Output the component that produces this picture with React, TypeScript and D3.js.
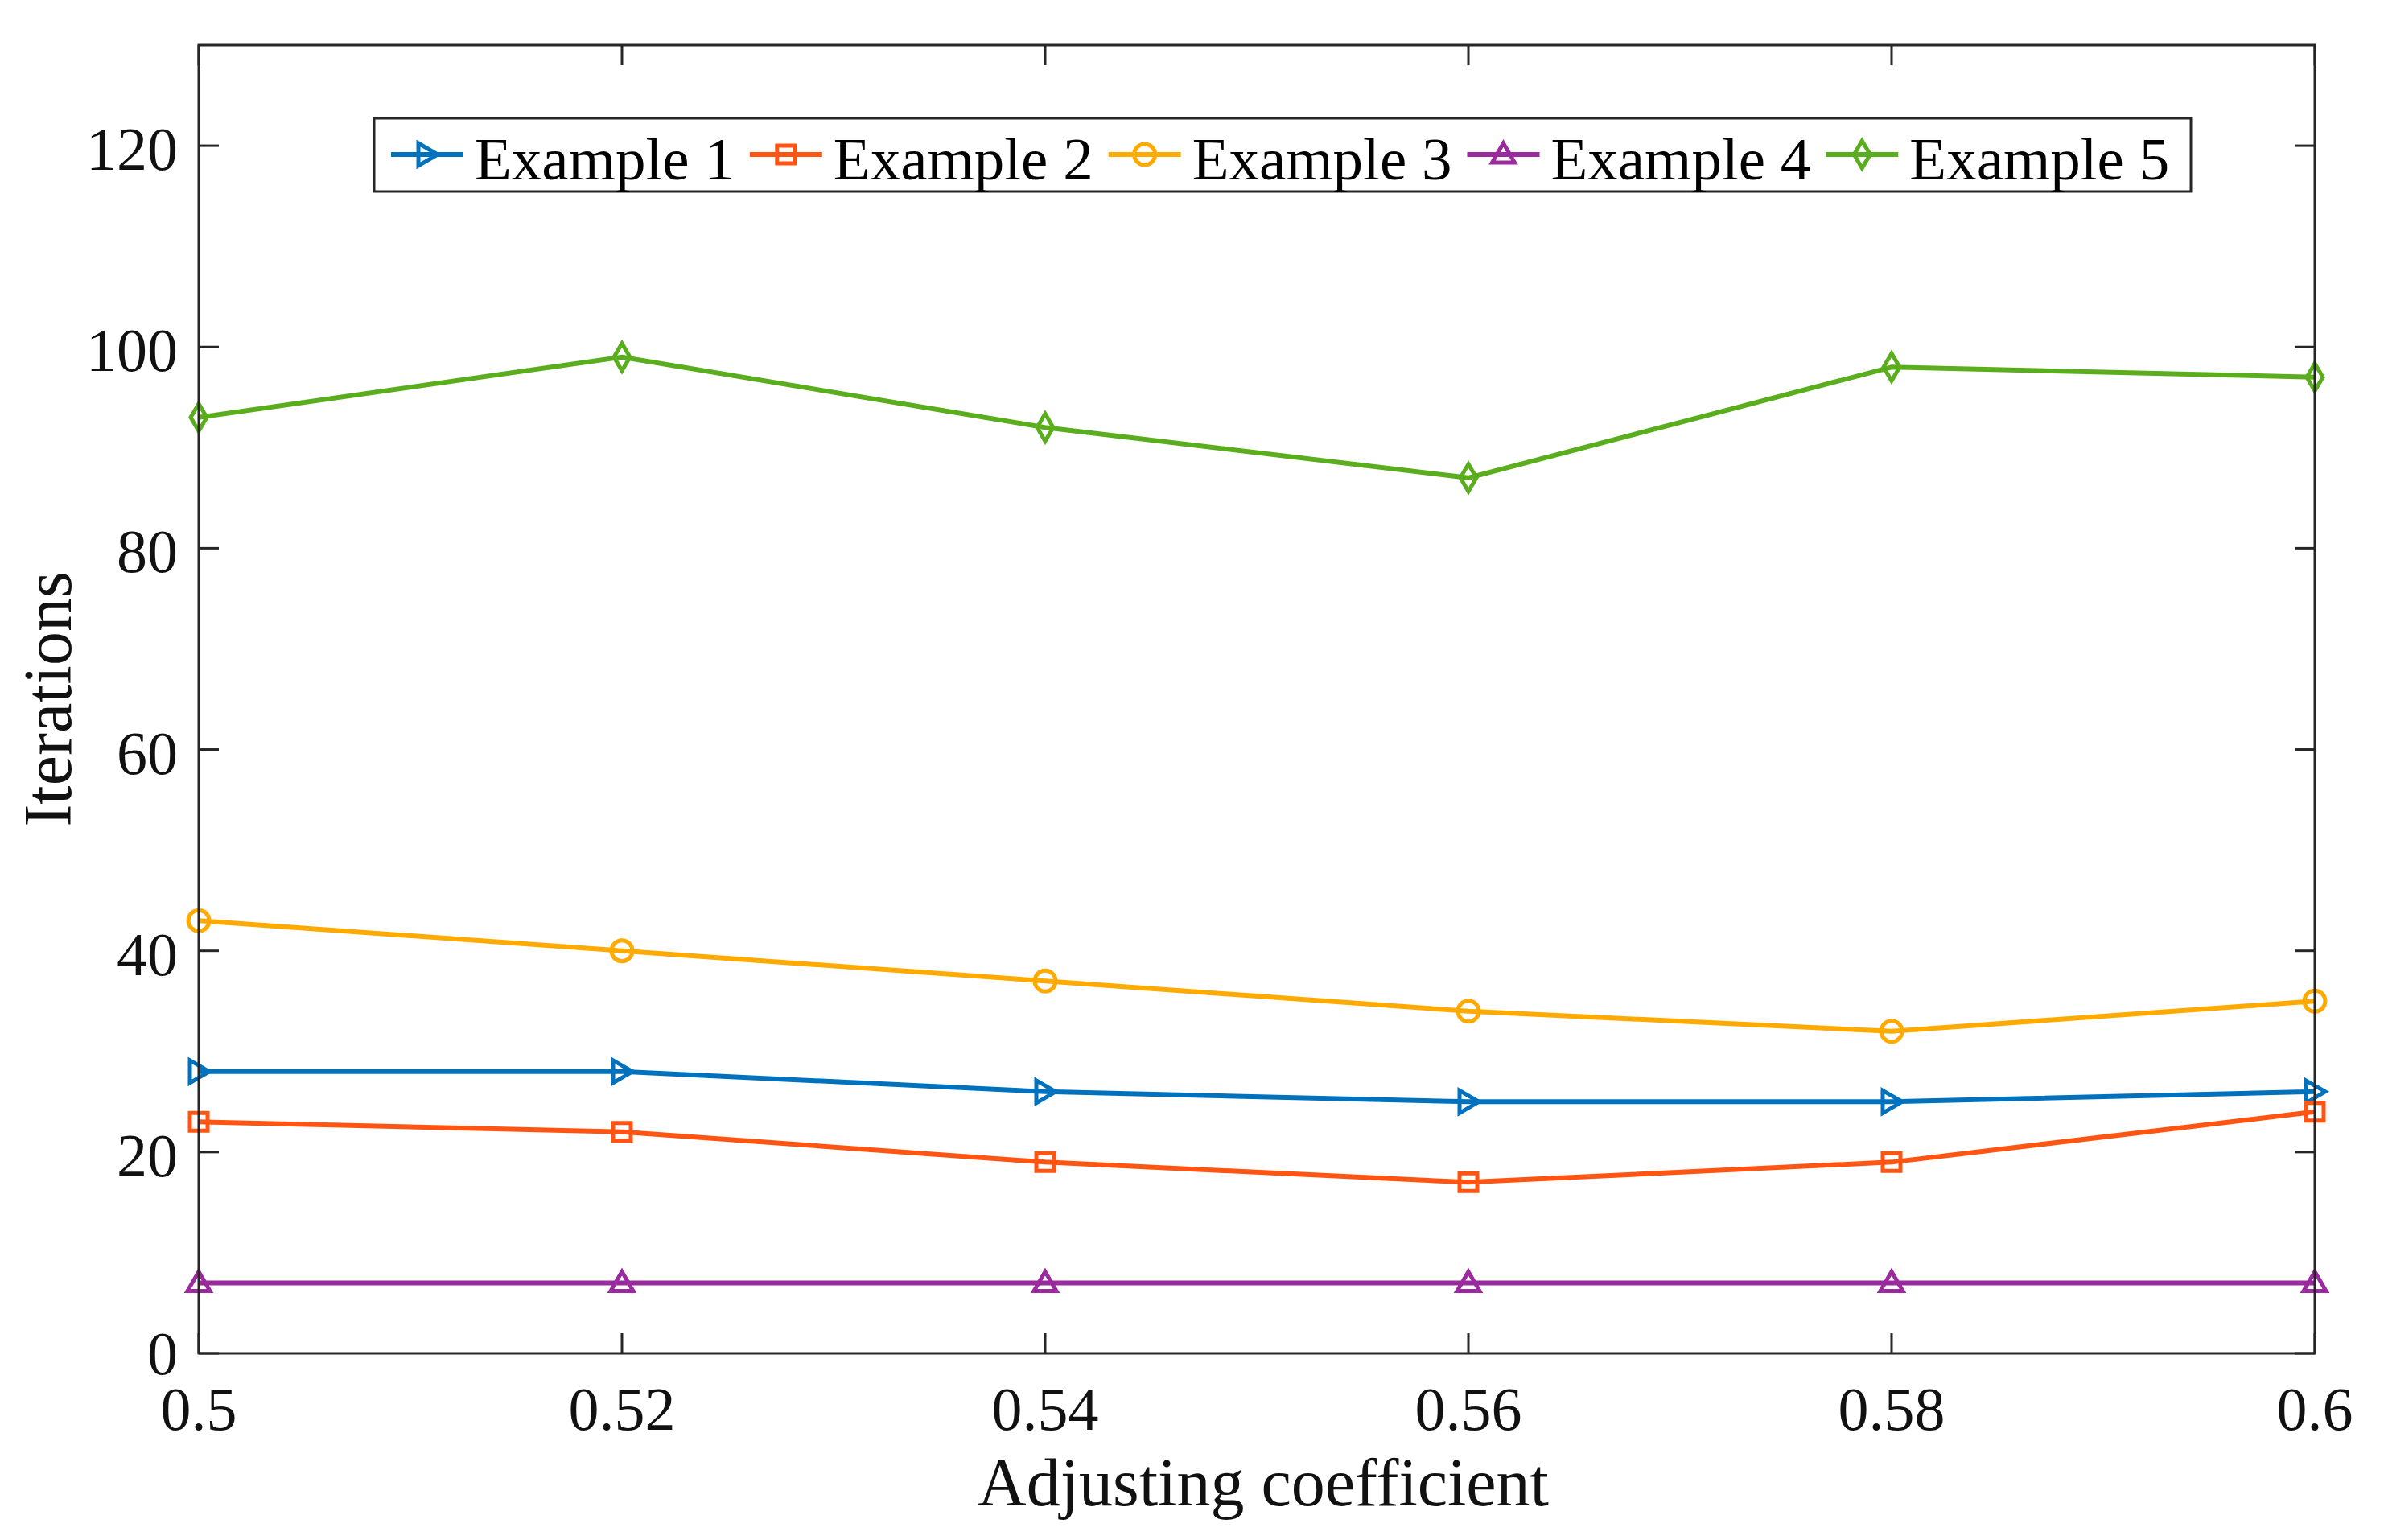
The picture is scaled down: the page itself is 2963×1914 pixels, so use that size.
import React, { useEffect, useRef } from 'react';
import * as d3 from 'd3';

const coefficients = [0.5, 0.52, 0.54, 0.56, 0.58, 0.6];
const example1 = [28, 28, 26, 25, 25, 26];
const example2 = [23, 22, 19, 17, 19, 24];
const example3 = [43, 40, 37, 34, 32, 35];
const example4 = [7, 7, 7, 7, 7, 7];
const example5 = [93, 99, 92, 87, 98, 97];
const seriesNames = ['Example 1', 'Example 2', 'Example 3', 'Example 4', 'Example 5'];
const xTicks = [0.5, 0.52, 0.54, 0.56, 0.58, 0.6];
const yTicks = [0, 20, 40, 60, 80, 100, 120];

const colors = ['#0072BD', '#FF5412', '#FFAA00', '#9A2A9E', '#5AAE1E'];
const markers = ['triRight', 'square', 'circle', 'triUp', 'diamond'];

const FONT = '"Liberation Serif", "Times New Roman", serif';

function markerPath(kind: string): string {
  switch (kind) {
    case 'triRight':
      return 'M-11,-14 L13,0 L-11,14 Z';
    case 'square':
      return 'M-11,-11 H11 V11 H-11 Z';
    case 'triUp':
      return 'M0,-14 L14,10 L-14,10 Z';
    case 'diamond':
      return 'M0,-17 L10,0 L0,17 L-10,0 Z';
    default:
      return d3.symbol(d3.symbolCircle, Math.PI * 13 * 13)() as string;
  }
}

export default function App() {
  const svgRef = useRef<SVGSVGElement>(null);

  useEffect(() => {
    document.body.style.margin = '0';
    if (!svgRef.current) return;
    const width = 2963;
    const height = 1914;
    const m = { left: 247, right: 2877, top: 56, bottom: 1682 };

    const svg = d3.select(svgRef.current);
    svg.selectAll('*').remove();
    svg.attr('width', width).attr('height', height);

    svg.append('rect').attr('width', width).attr('height', height).attr('fill', '#fff');

    const x = d3.scaleLinear().domain([0.5, 0.6]).range([m.left, m.right]);
    const y = d3.scaleLinear().domain([0, 130]).range([m.bottom, m.top]);

    const all = [example1, example2, example3, example4, example5];

    const axisColor = '#262626';
    const tickLen = 25;
    const g = svg.append('g');

    // ticks (inside, mirrored)
    xTicks.forEach(t => {
      g.append('line').attr('x1', x(t)).attr('x2', x(t)).attr('y1', m.bottom).attr('y2', m.bottom - tickLen)
        .attr('stroke', axisColor).attr('stroke-width', 3);
      g.append('line').attr('x1', x(t)).attr('x2', x(t)).attr('y1', m.top).attr('y2', m.top + tickLen)
        .attr('stroke', axisColor).attr('stroke-width', 3);
      g.append('text').attr('x', x(t)).attr('y', 1777).attr('text-anchor', 'middle')
        .attr('font-family', FONT).attr('font-size', 76).attr('fill', '#111')
        .text(String(t));
    });
    yTicks.forEach(t => {
      g.append('line').attr('x1', m.left).attr('x2', m.left + tickLen).attr('y1', y(t)).attr('y2', y(t))
        .attr('stroke', axisColor).attr('stroke-width', 3);
      g.append('line').attr('x1', m.right).attr('x2', m.right - tickLen).attr('y1', y(t)).attr('y2', y(t))
        .attr('stroke', axisColor).attr('stroke-width', 3);
      g.append('text').attr('x', 221).attr('y', y(t) + (t === 0 ? 26 : 30)).attr('text-anchor', 'end')
        .attr('font-family', FONT).attr('font-size', 76).attr('fill', '#111')
        .text(String(t));
    });

    // series
    const line = d3.line<number>().x((_, i) => x(coefficients[i])).y(d => y(d));
    all.forEach((vals, si) => {
      svg.append('path').attr('d', line(vals) as string).attr('fill', 'none')
        .attr('stroke', colors[si]).attr('stroke-width', 6);
      svg.selectAll(null).data(vals).enter().append('path')
        .attr('d', markerPath(markers[si]))
        .attr('transform', (d, i) => `translate(${x(coefficients[i])},${y(d)})`)
        .attr('fill', 'none').attr('stroke', colors[si]).attr('stroke-width', 5);
    });

    // frame
    svg.append('rect').attr('x', m.left).attr('y', m.top)
      .attr('width', m.right - m.left).attr('height', m.bottom - m.top)
      .attr('fill', 'none').attr('stroke', axisColor).attr('stroke-width', 3);

    // axis labels
    svg.append('text').attr('x', (m.left + m.right) / 2 + 8).attr('y', 1871).attr('text-anchor', 'middle')
      .attr('font-family', FONT).attr('font-size', 84).attr('fill', '#111')
      .text('Adjusting coefficient');
    svg.append('text').attr('transform', `translate(88,${(m.top + m.bottom) / 2}) rotate(-90)`)
      .attr('text-anchor', 'middle')
      .attr('font-family', FONT).attr('font-size', 84).attr('fill', '#111')
      .text('Iterations');

    // legend
    const lg = svg.append('g');
    const box = lg.append('rect').attr('x', 465).attr('y', 147).attr('width', 2258).attr('height', 91)
      .attr('fill', '#fff').attr('stroke', axisColor).attr('stroke-width', 3);
    let cx = 486;
    const ly = 192;
    seriesNames.forEach((name, si) => {
      lg.append('line').attr('x1', cx).attr('x2', cx + 90).attr('y1', ly).attr('y2', ly)
        .attr('stroke', colors[si]).attr('stroke-width', 6);
      lg.append('path').attr('d', markerPath(markers[si]))
        .attr('transform', `translate(${cx + 45},${ly})`)
        .attr('fill', 'none').attr('stroke', colors[si]).attr('stroke-width', 5);
      const txt = lg.append('text').attr('x', cx + 104).attr('y', 223)
        .attr('font-family', FONT).attr('font-size', 75).attr('fill', '#000')
        .text(name);
      const w = (txt.node() as SVGTextElement).getComputedTextLength();
      cx = cx + 104 + w + 19;
    });
    box.attr('width', Math.max(2258, cx - 465 - 10));
  }, []);

  return <svg ref={svgRef} style={{ display: 'block' }}></svg>;
}
